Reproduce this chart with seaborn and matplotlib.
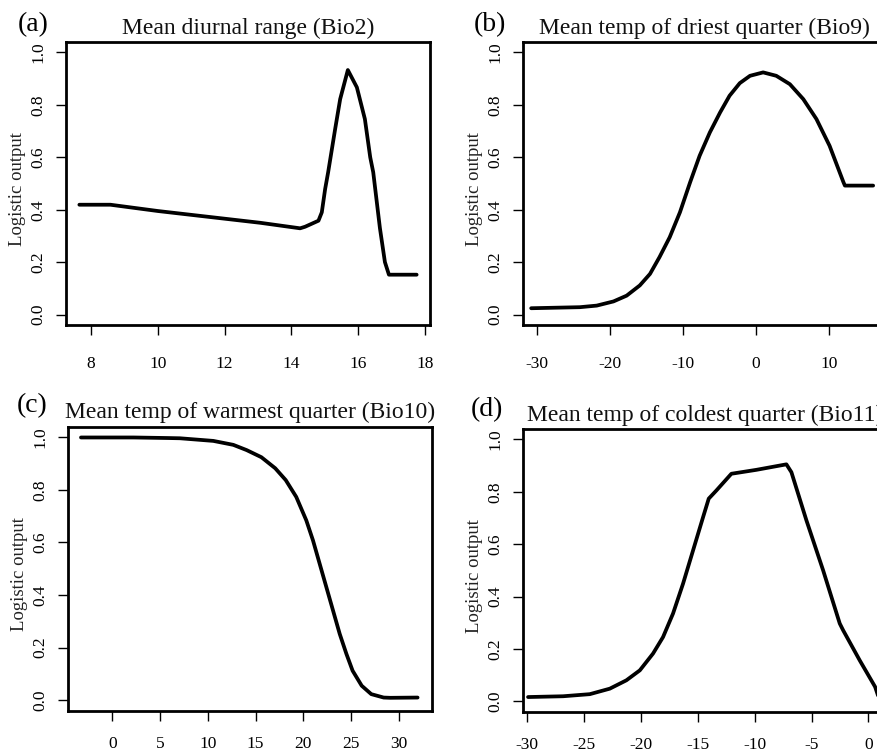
import numpy as np
import pandas as pd
import matplotlib
matplotlib.use("Agg")
import matplotlib.pyplot as plt
import seaborn as sns

# values
bio2_x = [7.65, 8.58, 10.0, 13.07, 14.26, 14.41, 14.81, 14.91, 15.01, 15.1, 15.31, 15.46,
          15.69, 15.96, 16.2, 16.36, 16.45, 16.65, 16.8, 16.92, 17.75]
bio2_y = [0.419, 0.419, 0.395, 0.350, 0.329, 0.335, 0.358, 0.390, 0.479, 0.543, 0.708, 0.822,
          0.933, 0.867, 0.746, 0.600, 0.543, 0.330, 0.200, 0.152, 0.152]

bio9_x = [-30.78, -24.1, -21.8, -19.5, -17.7, -15.9, -14.5, -13.2, -11.8, -10.4, -9.0, -7.7,
          -6.3, -4.9, -3.6, -2.2, -0.8, 1.0, 2.8, 4.66, 6.5, 8.3, 10.1, 12.0, 12.2, 16.07]
bio9_y = [0.024, 0.028, 0.034, 0.050, 0.072, 0.111, 0.155, 0.219, 0.295, 0.390, 0.505, 0.606,
          0.695, 0.771, 0.835, 0.883, 0.911, 0.924, 0.911, 0.879, 0.822, 0.746, 0.644, 0.505,
          0.492, 0.492]

bio10_x = [-3.28, 2.2, 5.69, 7.08, 10.57, 12.66, 14.06, 15.6, 17.05, 18.15, 19.25, 20.3,
           21.0, 21.7, 22.4, 23.1, 23.8, 24.5, 25.15, 26.1, 27.1, 28.4, 29.1, 31.95]
bio10_y = [0.999, 0.999, 0.997, 0.996, 0.986, 0.971, 0.951, 0.924, 0.882, 0.837, 0.773, 0.684,
           0.608, 0.519, 0.430, 0.341, 0.252, 0.176, 0.112, 0.055, 0.023, 0.010, 0.009, 0.010]

bio11_x = [-29.93, -26.85, -24.5, -22.74, -21.28, -20.1, -18.94, -18.06, -17.18, -16.3, -15.42,
           -14.54, -14.04, -13.37, -12.05, -9.85, -7.21, -6.77, -5.45, -3.98, -2.52, -2.22,
           -0.76, 0.59, 0.9]
bio11_y = [0.016, 0.019, 0.027, 0.048, 0.080, 0.118, 0.182, 0.245, 0.335, 0.449, 0.576,
           0.703, 0.774, 0.805, 0.869, 0.884, 0.905, 0.875, 0.691, 0.500, 0.297, 0.271,
           0.156, 0.055, 0.015]

titles = ["Mean diurnal range (Bio2)", "Mean temp of driest quarter (Bio9)",
          "Mean temp of warmest quarter (Bio10)", "Mean temp of coldest quarter (Bio11)"]
letters = ["(a)", "(b)", "(c)", "(d)"]

sns.set_style("ticks")
plt.rcParams["font.family"] = ["Liberation Serif", "DejaVu Serif"]
plt.rcParams["axes.unicode_minus"] = False

W, H = 877, 753
fig = plt.figure(figsize=(W / 100, H / 100), dpi=100)

# axes boxes in pixels: left, top, width, height
boxes = [(66, 42, 364, 283), (523, 42, 363.5, 283),
         (67.7, 426.7, 364.6, 284), (522.7, 429, 364, 282.7)]
xlims = [(7.25, 18.15), (-31.9, 17.9), (-4.67, 33.49), (-30.4, 1.61)]
xticks = [np.arange(8, 19, 2), np.arange(-30, 11, 10), np.arange(0, 31, 5), np.arange(-30, 1, 5)]
letter_pos = [(33.5, 25), (490, 25), (32, 406), (487, 410)]
data = [(bio2_x, bio2_y), (bio9_x, bio9_y), (bio10_x, bio10_y), (bio11_x, bio11_y)]

for i in range(4):
    l, t, w, h = boxes[i]
    ax = fig.add_axes([l / W, 1 - (t + h) / H, w / W, h / H])
    df = pd.DataFrame({"x": data[i][0], "y": data[i][1]})
    sns.lineplot(data=df, x="x", y="y", ax=ax, color="black", linewidth=2.7)
    ax.set_xlim(xlims[i])
    ax.set_ylim(-0.04, 1.04)
    ax.set_xticks(xticks[i])
    ax.set_yticks([0, 0.2, 0.4, 0.6, 0.8, 1.0])
    ax.set_yticklabels(["0.0", "0.2", "0.4", "0.6", "0.8", "1.0"])
    for s in ax.spines.values():
        s.set_visible(True)
        s.set_linewidth(2.0)
        s.set_color("black")
    ax.tick_params(length=7, width=1.0, colors="black", labelsize=12.5,
                   pad=15 if i < 2 else 11.5)
    ax.tick_params(axis="y", labelrotation=90, pad=7)
    for lab in ax.get_yticklabels():
        lab.set_va("center")
    ax.set_xlabel("")
    ax.set_ylabel("Logistic output", fontsize=13.5, color="#222222")
    ax.yaxis.set_label_coords(-40 / w, 0.48)
    ax.set_title(titles[i], fontsize=17, pad=6, color="#111111")
    fig.text(letter_pos[i][0] / W, 1 - letter_pos[i][1] / H, letters[i],
             fontsize=20, ha="center", va="center", color="black")

fig.savefig("out.png", dpi=100, facecolor="white")
